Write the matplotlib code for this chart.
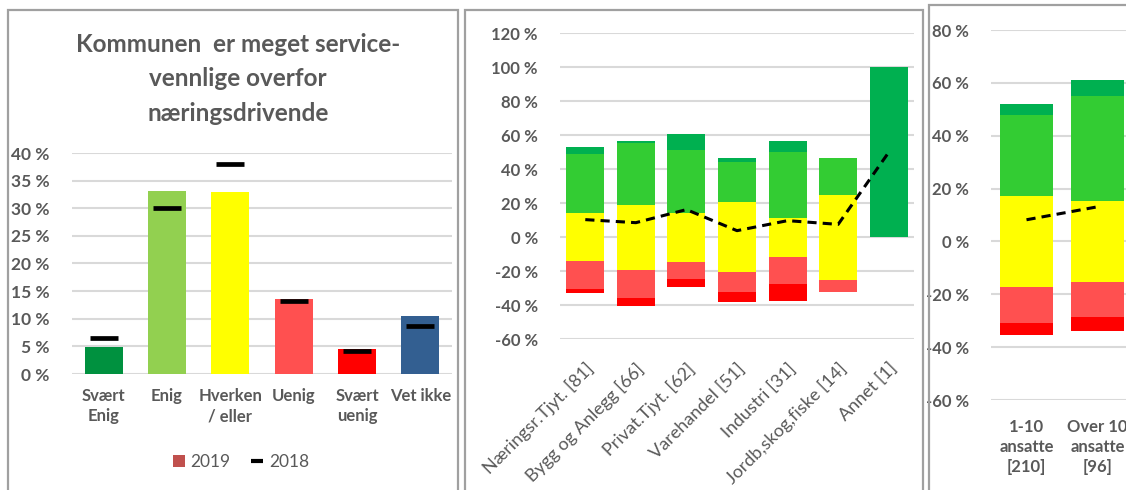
import matplotlib
matplotlib.use("Agg")
import matplotlib.pyplot as plt
from matplotlib.patches import Rectangle, Patch
from matplotlib.lines import Line2D
import numpy as np

plt.rcParams['font.family'] = ['Lato', 'DejaVu Sans']

# ---------------- data ----------------
cats1 = ["Svært\nEnig", "Enig", "Hverken\n/ eller", "Uenig", "Svært\nuenig", "Vet ikke"]
v2019 = [4.9, 33.1, 32.9, 13.5, 4.6, 10.5]
v2018 = [6.5, 30.0, 38.0, 13.3, 4.1, 8.6]
colors1 = ["#00913F", "#92D050", "#FFFF00", "#FF5050", "#FF0000", "#335F91"]

sectors = ["Næringsr.Tjyt. [81]", "Bygg og Anlegg [66]", "Privat.Tjyt. [62]",
           "Varehandel [51]", "Industri [31]", "Jordb,skog,fiske [14]", "Annet [1]"]
sec_svaert_enig = [4.5, 1.4, 9.8, 2.0, 6.5, 0.0, 100.0]
sec_enig = [34.7, 36.1, 36.9, 23.9, 38.6, 21.4, 0.0]
sec_hverken = [28.4, 38.2, 28.6, 41.0, 23.0, 50.0, 0.0]
sec_uenig = [16.1, 16.5, 10.2, 11.8, 15.9, 7.1, 0.0]
sec_svaert_uenig = [2.4, 4.7, 4.7, 5.9, 9.8, 0.0, 0.0]
sec_2018 = [10.4, 8.6, 16.3, 3.9, 9.8, 7.6, 50.0]

sizes = ["1-10\nansatte\n[210]", "Over 10\nansatte\n[96]"]
siz_svaert_enig = [4.2, 6.1]
siz_enig = [30.7, 39.8]
siz_hverken = [34.3, 30.5]
siz_uenig = [13.7, 13.3]
siz_svaert_uenig = [4.5, 5.4]
siz_2018 = [8.2, 13.1]

C_SE = "#00B050"
C_E = "#33CC33"
C_H = "#FFFF00"
C_U = "#FF5050"
C_SU = "#FF0000"
TXT = "#595959"
GRID = "#D9D9D9"

W, H = 1126, 490
fig = plt.figure(figsize=(W / 100, H / 100), dpi=100)


def ax_px(x0, x1, ytop, ybot):
    return fig.add_axes([x0 / W, 1 - ybot / H, (x1 - x0) / W, (ybot - ytop) / H])


def style(ax, yticks, fs, bold=True):
    ax.set_yticks(yticks)
    ax.set_yticklabels([f"{t:d} %" for t in yticks], fontsize=fs,
                       fontweight='bold' if bold else 'normal', color=TXT)
    ax.yaxis.grid(True, color=GRID, lw=1.5)
    ax.set_axisbelow(True)
    for s in ax.spines.values():
        s.set_visible(False)
    ax.tick_params(axis='y', length=0, pad=16)
    ax.tick_params(axis='x', length=0)


# frames
for (x0, x1, y0) in [(8, 458, 10), (465, 923, 10), (929, 1300, 5)]:
    fig.add_artist(Rectangle((x0 / W, -0.1), (x1 - x0) / W, 1 - y0 / H + 0.1,
                             transform=fig.transFigure, fill=False,
                             edgecolor="#A0A0A0", lw=1.6))

# ---------------- panel 1 ----------------
ax1 = ax_px(72, 452, 153, 374)
x1 = np.arange(len(cats1))
ax1.bar(x1, v2019, width=0.6, color=colors1, zorder=2)
ax1.plot(x1, v2018, linestyle='none', marker='_', color='black',
         markersize=19.5, markeredgewidth=3.4, zorder=3)
ax1.set_xlim(-0.5, len(cats1) - 0.5)
ax1.set_ylim(0, 40)
style(ax1, list(range(0, 41, 5)), 12.5)
ax1.set_xticks(x1)
ax1.set_xticklabels(cats1, fontsize=12, fontweight='bold', color=TXT, linespacing=1.35)
ax1.tick_params(axis='x', pad=10)
fig.text(238 / W, 1 - 79 / H, "Kommunen  er meget service-\nvennlige overfor\nnæringsdrivende",
         ha='center', va='center', fontsize=17.5, fontweight='bold', color=TXT,
         linespacing=1.6)
handles = [Patch(facecolor="#C0504D", edgecolor='none'),
           Line2D([], [], color='black', lw=0, marker='_', markersize=9, markeredgewidth=3)]
fig.legend(handles, ["2019", "2018"], loc='center', bbox_to_anchor=(241 / W, 1 - 462 / H),
           ncol=2, frameon=False, fontsize=12.5, labelcolor=TXT,
           handlelength=0.7, handleheight=0.7, handletextpad=0.3, columnspacing=1.2)


def diverging(ax, se, e, h, u, su, line, width):
    x = np.arange(len(h))
    h = np.array(h); e = np.array(e); se = np.array(se)
    u = np.array(u); su = np.array(su)
    ax.bar(x, h, bottom=-h / 2, width=width, color=C_H, zorder=2)
    ax.bar(x, e, bottom=h / 2, width=width, color=C_E, zorder=2)
    ax.bar(x, se, bottom=h / 2 + e, width=width, color=C_SE, zorder=2)
    ax.bar(x, -u, bottom=-h / 2, width=width, color=C_U, zorder=2)
    ax.bar(x, -su, bottom=-h / 2 - u, width=width, color=C_SU, zorder=2)
    ax.plot(x, line, color='black', lw=2.2, linestyle=(0, (3, 2)), zorder=3)
    ax.set_xlim(-0.5, len(h) - 0.5)
    return x


# ---------------- panel 2 ----------------
ax2 = ax_px(560, 914, 33.3, 339.3)
x2 = diverging(ax2, sec_svaert_enig, sec_enig, sec_hverken, sec_uenig,
               sec_svaert_uenig, sec_2018, 0.75)
ax2.set_ylim(-60, 120)
style(ax2, list(range(-60, 121, 20)), 12)
ax2.set_xticks(x2)
ax2.set_xticklabels(sectors, rotation=45, ha='right', va='top',
                    rotation_mode='anchor', fontsize=13, color=TXT)
ax2.tick_params(axis='x', pad=15)
for lab in ax2.get_xticklabels():
    lab.set_x(lab.get_position()[0])

# ---------------- panel 3 ----------------
ax3 = ax_px(991, 1133, 30, 400)
x3 = diverging(ax3, siz_svaert_enig, siz_enig, siz_hverken, siz_uenig,
               siz_svaert_uenig, siz_2018, 0.75)
ax3.set_ylim(-60, 80)
style(ax3, list(range(-60, 81, 20)), 12)
ax3.set_xticks(x3)
ax3.set_xticklabels(sizes, fontsize=12, fontweight='bold', color=TXT, linespacing=1.3)
ax3.tick_params(axis='x', pad=14)

fig.savefig("out.png", dpi=100)
